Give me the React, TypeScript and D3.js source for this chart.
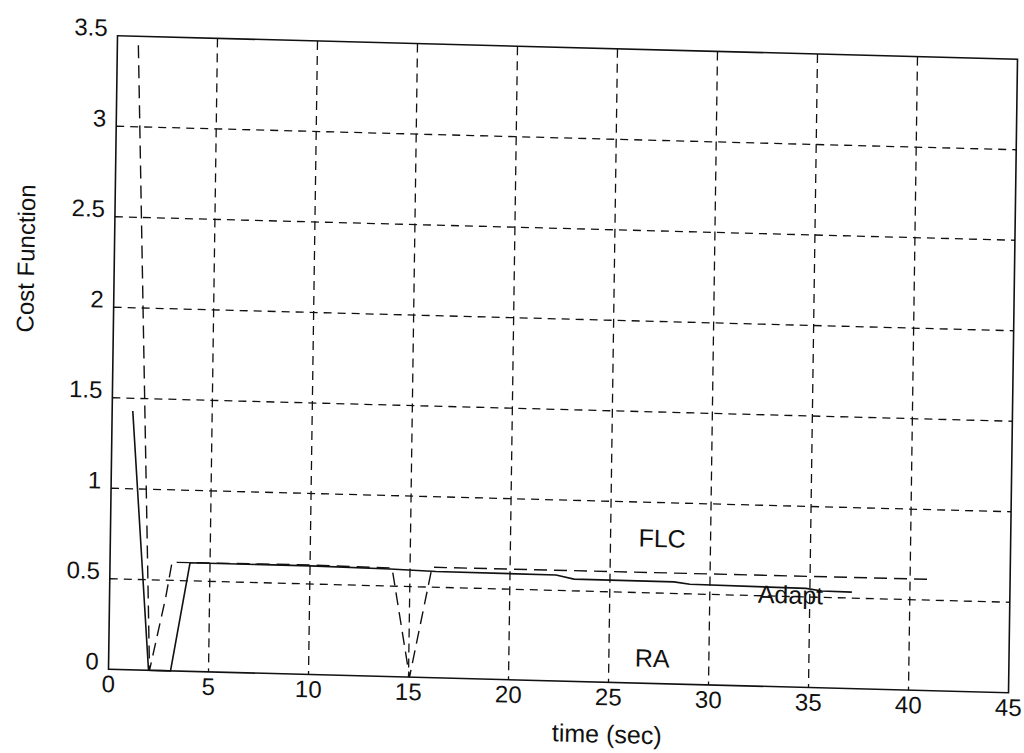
import * as d3 from 'd3';

// axis ticks
const timeTicks = [0, 5, 10, 15, 20, 25, 30, 35, 40, 45];
const costTicks = [0, 0.5, 1, 1.5, 2, 2.5, 3, 3.5];
const costTickLabels = ['0', '0.5', '1', '1.5', '2', '2.5', '3', '3.5'];

// FLC (dashed)
const flcTime = [1.05, 2.05, 2.8, 3.1, 10, 14.1, 15.05, 16.1, 25, 41.0];
const flcCost = [3.45, 0, 0.4, 0.6, 0.605, 0.6, 0, 0.61, 0.612, 0.615];

// Adapt (solid)
const adaptTime = [1.03, 2.0, 3.1, 4.0, 10, 14, 16.3, 22.3, 23.2, 28.2, 29, 34.8, 35.6, 37.1];
const adaptCost = [1.43, 0, 0, 0.6, 0.6, 0.594, 0.587, 0.585, 0.565, 0.564, 0.553, 0.547, 0.535, 0.533];

const W = 900;
const H = 633.5;
// the scan is slightly tilted
const tilt = 'matrix(1,0.0261,-0.0142,1,117.5,35.75)';
const font = '"Liberation Sans", Arial, sans-serif';

export default function App() {
  const x = d3.scaleLinear().domain([0, 45]).range([0, W]);
  const y = d3.scaleLinear().domain([0, 3.5]).range([H, 0]);
  const line = d3.line<[number, number]>().x(d => x(d[0])).y(d => y(d[1]));

  const flc = flcTime.map((t, i) => [t, flcCost[i]] as [number, number]);
  const adapt = adaptTime.map((t, i) => [t, adaptCost[i]] as [number, number]);

  return (
    <svg width={1024} height={753} style={{ position: 'absolute', left: 0, top: 0, background: '#fff' }}
      fontFamily={font}>
      <g transform={tilt}>
        {/* grid */}
        {timeTicks.slice(1, -1).map(t => (
          <line key={'gx' + t} x1={x(t)} x2={x(t)} y1={0} y2={H}
            stroke="#111" strokeWidth={1.3} strokeDasharray="9,6" />
        ))}
        {costTicks.slice(1, -1).map(c => (
          <line key={'gy' + c} x1={0} x2={W} y1={y(c)} y2={y(c)}
            stroke="#111" strokeWidth={1.3} strokeDasharray="8,6" />
        ))}

        {/* curves */}
        <path d={line(adapt) || ''} fill="none" stroke="#111" strokeWidth={1.6} />
        <path d={line(flc) || ''} fill="none" stroke="#111" strokeWidth={1.4} strokeDasharray="13,7" />

        {/* frame */}
        <rect x={0} y={0} width={W} height={H} fill="none" stroke="#111" strokeWidth={1.6} />

        {/* tick labels */}
        {costTicks.map((c, i) => (
          <text key={'ly' + c} x={-10} y={y(c) - 8} textAnchor="end" dominantBaseline="central"
            fontSize={24} fill="#111">{costTickLabels[i]}</text>
        ))}
        {timeTicks.map(t => (
          <text key={'lx' + t} x={x(t)} y={H + 23} textAnchor="middle"
            fontSize={24} fill="#111">{t}</text>
        ))}

        {/* series labels */}
        <text x={528} y={497} fontSize={25} fill="#111">FLC</text>
        <text x={648} y={550} fontSize={25} fill="#111">Adapt</text>
        <text x={526} y={617} fontSize={25} fill="#111">RA</text>

        {/* axis titles */}
        <text x={499} y={694} textAnchor="middle" fontSize={25} fill="#111">time (sec)</text>
        <text transform="translate(-80,225) rotate(-90)" textAnchor="middle" fontSize={24} fill="#111">Cost Function</text>
      </g>
    </svg>
  );
}
